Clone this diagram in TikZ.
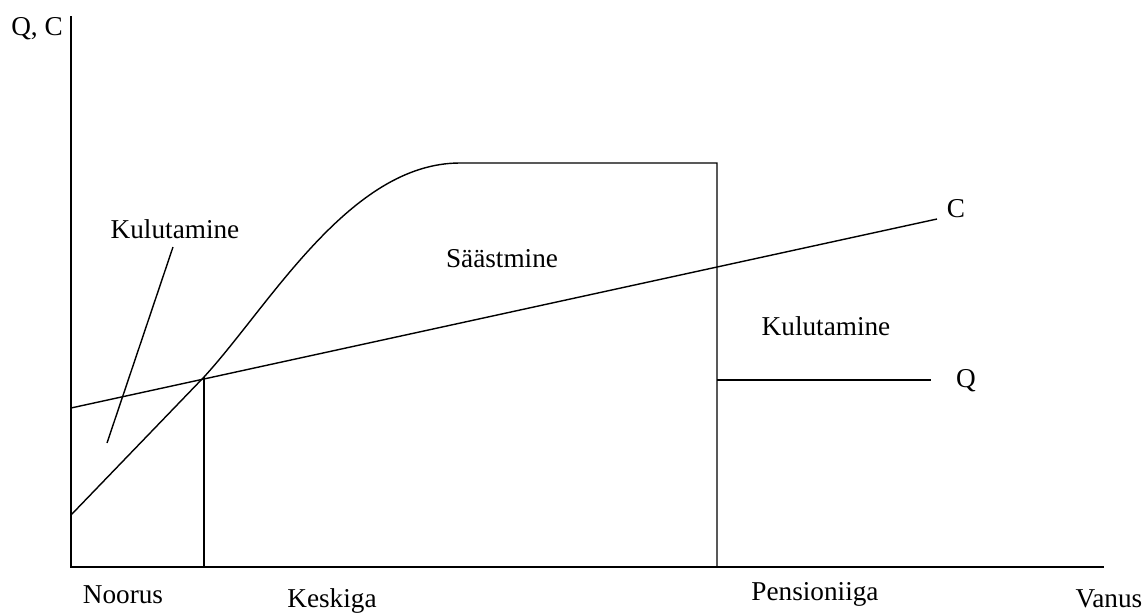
\documentclass[tikz,border=0pt]{standalone}
\usepackage{fontspec}
\setmainfont{Liberation Serif}
\usetikzlibrary{positioning}

\tikzset{
  lbl/.style={font=\fontsize{15.5}{18}\selectfont, inner sep=0pt, anchor=base},
  ln/.style={line width=0.8pt}
}

\begin{document}
\begin{tikzpicture}[x=0.02cm, y=-0.02cm]
      \useasboundingbox (0,0) rectangle (1148,612);
      %ejes
      \coordinate (o) at (71,567);
      \coordinate (ytop) at (71,16);
      \coordinate (xend) at (1104,567);
      \draw[ln, line width=1pt] (ytop) -- (o) -- (xend);
      %puntos
      \coordinate (q0) at (71,515);
      \coordinate (x1) at (204,377);
      \coordinate (top) at (460,163);
      \coordinate (ret) at (717,163);
      \coordinate (retb) at (717,567);
      \coordinate (qr) at (717,380);
      \coordinate (qend) at (931,380);
      \coordinate (c0) at (71,408);
      \coordinate (cend) at (937,219);
      \coordinate (x1b) at (204,567);
      %ingreso Q
      \draw[ln] (q0) -- (x1) .. controls (270,305) and (350,163) .. (top) -- (ret) -- (retb);
      \draw[ln] (qr) -- (qend);
      %consumo C
      \draw[ln] (c0) -- (cend);
      \draw[ln] (x1) -- (x1b);
      %textos
      \node[lbl] (qc) at (37,35) {Q, C};
      \node[lbl] (cl) at (956,217) {C};
      \node[lbl] (ql) at (966,387) {Q};
      \node[lbl] (kul1) at (175,238) {Kulutamine};
      \coordinate (p1) at (173,247);
      \coordinate (p2) at (107,443);
      \draw[ln] (p1) -- (p2);
      \node[lbl] (saast) at (502,267) {Säästmine};
      \node[lbl] (kul2) at (826,335) {Kulutamine};
      %etapas
      \node[lbl] (noor) at (123,603) {Noorus};
      \node[lbl] (kesk) at (332,607) {Keskiga};
      \node[lbl] (pens) at (815,600) {Pensioniiga};
      \node[lbl] (vanus) at (1109,607) {Vanus};
\end{tikzpicture}
\end{document}
